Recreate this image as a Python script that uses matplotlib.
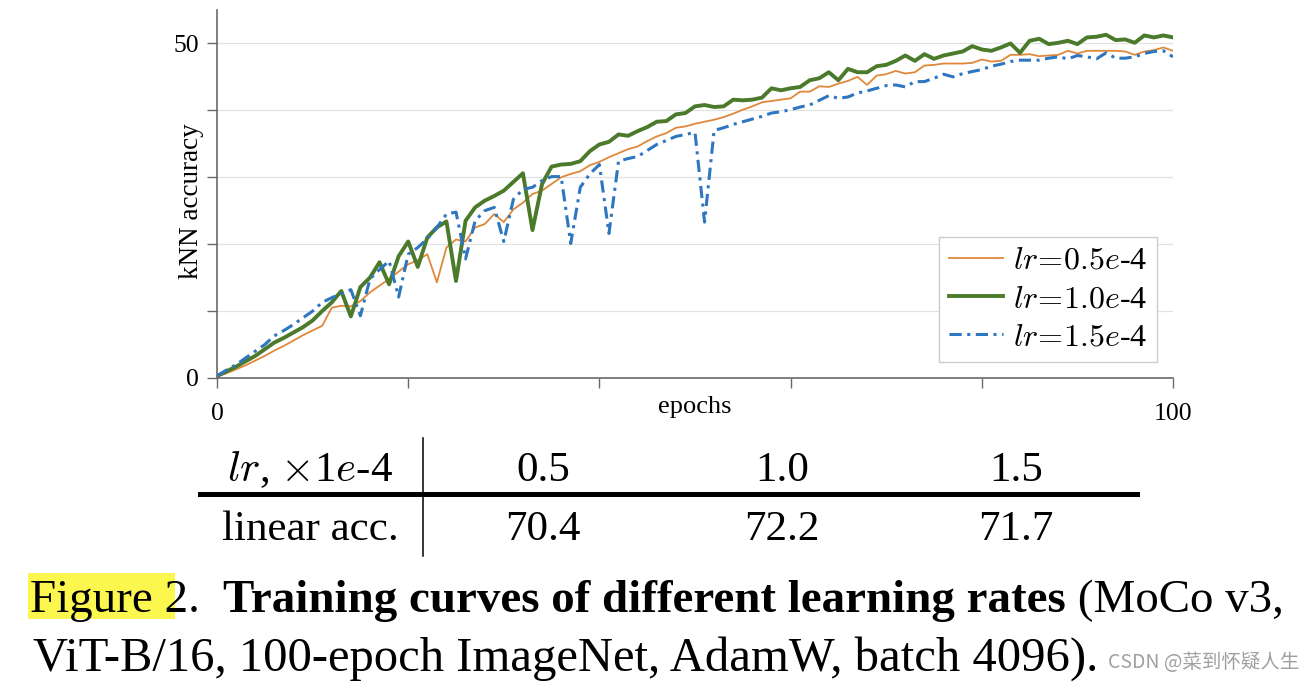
import numpy as np
import matplotlib.pyplot as plt
from matplotlib.patches import Rectangle
from matplotlib.lines import Line2D

plt.rcParams['font.family'] = ['Liberation Serif', 'DejaVu Serif']
plt.rcParams['mathtext.fontset'] = 'cm'

# kNN accuracy per epoch
epochs = np.arange(101)
acc_lr05 = [0.2, 0.7, 1.3, 1.9, 2.6, 3.3, 4.1, 4.8, 5.6, 6.4,
            7.1, 7.8, 10.5, 10.8, 10.7, 11.5, 12.8, 13.8, 14.8, 15.9,
            17.0, 17.6, 18.5, 14.3, 19.5, 20.7, 20.4, 22.5, 23.0, 24.5,
            23.3, 25.2, 26.2, 27.5, 28.0, 29.0, 30.0, 30.5, 30.9, 31.8,
            32.3, 33.0, 33.6, 34.2, 34.6, 35.4, 36.1, 36.6, 37.4, 37.6,
            38.0, 38.3, 38.6, 39.0, 39.5, 40.1, 40.6, 41.2, 41.4, 41.6,
            41.8, 42.8, 42.8, 43.6, 43.5, 44.0, 44.4, 45.0, 43.8, 45.2,
            45.4, 45.9, 45.5, 45.7, 46.7, 46.8, 47.0, 47.0, 47.0, 47.1,
            47.6, 47.3, 47.4, 48.3, 48.3, 48.4, 48.1, 48.2, 48.3, 48.9,
            48.5, 48.9, 48.9, 48.9, 48.9, 48.8, 48.3, 48.8, 49.0, 49.4,
            48.9]
acc_lr10 = [0.3, 1.0, 1.7, 2.5, 3.3, 4.3, 5.3, 6.0, 6.8, 7.6,
            8.6, 10.0, 11.3, 13.0, 9.2, 13.6, 15.0, 17.3, 14.0, 18.2,
            20.4, 16.6, 21.0, 22.5, 23.4, 14.5, 23.5, 25.5, 26.5, 27.2,
            28.0, 29.3, 30.6, 22.1, 29.0, 31.6, 31.9, 32.0, 32.4, 33.9,
            34.9, 35.3, 36.4, 36.2, 36.9, 37.5, 38.3, 38.4, 39.4, 39.6,
            40.6, 40.8, 40.5, 40.6, 41.6, 41.5, 41.6, 41.9, 43.3, 43.0,
            43.3, 43.5, 44.5, 44.8, 45.7, 44.5, 46.2, 45.7, 45.7, 46.6,
            46.8, 47.4, 48.2, 47.4, 48.4, 47.7, 48.2, 48.5, 48.8, 49.6,
            49.1, 48.9, 49.4, 50.0, 48.6, 50.4, 50.7, 49.9, 50.1, 50.4,
            49.9, 50.9, 51.0, 51.3, 50.5, 50.6, 50.1, 51.2, 50.9, 51.2,
            50.9]
acc_lr15 = [0.3, 1.2, 2.0, 3.0, 4.0, 5.0, 6.3, 7.1, 8.0, 9.0,
            10.0, 11.3, 12.0, 12.6, 13.2, 9.3, 14.8, 16.2, 17.5, 12.1,
            18.5, 19.5, 20.8, 22.5, 24.5, 24.8, 17.8, 23.5, 25.0, 25.5,
            20.4, 26.7, 28.2, 28.5, 29.5, 30.1, 30.1, 20.1, 28.5, 30.5,
            31.9, 21.6, 32.4, 32.8, 33.1, 34.0, 34.9, 35.5, 36.1, 36.4,
            36.7, 23.3, 37.0, 37.4, 37.9, 38.3, 38.7, 39.1, 39.6, 39.8,
            40.1, 40.5, 40.8, 41.5, 42.2, 41.8, 42.0, 42.6, 42.9, 43.3,
            43.7, 43.8, 43.5, 44.3, 44.3, 44.8, 45.4, 45.0, 45.5, 45.8,
            46.1, 46.6, 46.9, 47.3, 47.5, 47.5, 47.5, 47.8, 48.0, 47.7,
            48.2, 48.0, 47.7, 48.6, 47.8, 47.8, 48.0, 48.5, 48.8, 48.9,
            48.0]
series_labels = [r'$lr\!=\!0.5e$-4', r'$lr\!=\!1.0e$-4', r'$lr\!=\!1.5e$-4']

# table under the plot
lr_values = ['0.5', '1.0', '1.5']
linear_acc = [70.4, 72.2, 71.7]

fig = plt.figure(figsize=(13.14, 6.82), dpi=100)
W, H = 1314, 682
ax = fig.add_axes([217 / W, 1 - 378 / H, 956 / W, 368 / H])

ax.plot(epochs, acc_lr05, color='#e0883a', lw=1.3, label=series_labels[0])
ax.plot(epochs, acc_lr10, color='#4a7a2a', lw=2.8, label=series_labels[1])
ax.plot(epochs, acc_lr15, color='#2e76c0', lw=2.2, ls=(0, (4, 1.8, 1, 1.8)),
        label=series_labels[2])

ax.set_xlim(0, 100)
ax.set_ylim(0, 55)
ax.set_xticks(np.arange(0, 101, 20))
ax.set_xticklabels(['0', '', '', '', '', '100'])
ax.set_yticks(np.arange(0, 51, 10))
ax.set_yticklabels(['0', '', '', '', '', '50'])
ax.grid(axis='y', color='#e2e2e2', lw=0.9)
ax.set_axisbelow(True)
for s in ['top', 'right']:
    ax.spines[s].set_visible(False)
for s in ['left', 'bottom']:
    ax.spines[s].set_color('#6a6a6a')
    ax.spines[s].set_linewidth(1.2)
ax.tick_params(axis='x', length=7, width=1, color='#6a6a6a', labelsize=18.5, pad=11)
ax.tick_params(axis='y', length=7, width=1, color='#6a6a6a', labelsize=18.5, pad=6)

ax.set_xlabel('epochs', fontsize=19)
ax.xaxis.set_label_coords(0.5, -0.05)
ax.set_ylabel('kNN accuracy', fontsize=19.5)
ax.yaxis.set_label_coords(-0.014, 0.48)

leg = ax.legend(loc='lower right', bbox_to_anchor=(0.983, 0.043), borderaxespad=0,
                fontsize=23, handlelength=1.7, handletextpad=0.3, labelspacing=0.28,
                borderpad=0.3, fancybox=False, framealpha=1)
leg.get_frame().set_edgecolor('#cccccc')
leg.get_frame().set_linewidth(1.0)

# table
def fx(px):
    return px / W

def fy(py):
    return 1 - py / H

col_x = [543, 782, 1016]
tsize = 31
fig.text(fx(310), fy(481), r'$lr$, $\times$1$e$-4', fontsize=tsize, ha='center', va='baseline')
for x, v in zip(col_x, lr_values):
    fig.text(fx(x), fy(481), v, fontsize=tsize, ha='center', va='baseline')
fig.text(fx(310), fy(540), 'linear acc.', fontsize=tsize, ha='center', va='baseline')
for x, v in zip(col_x, linear_acc):
    fig.text(fx(x), fy(540), f'{v:.1f}', fontsize=tsize, ha='center', va='baseline')
fig.add_artist(Line2D([fx(200), fx(1137)], [fy(494), fy(494)], color='black', lw=3.6))
fig.add_artist(Line2D([fx(423), fx(423)], [fy(438), fy(556)], color='black', lw=1.1))

# caption
fig.add_artist(Rectangle((fx(28), fy(619)), (175 - 28) / W, (619 - 573) / H,
                         color='#fbf74f', zorder=0, lw=0))
renderer = fig.canvas.get_renderer()
x = fx(30)
for txt, wt in [('Figure 2.  ', 'normal'),
                ('Training curves of different learning rates', 'bold'),
                (' (MoCo v3,', 'normal')]:
    t = fig.text(x, fy(612), txt, fontsize=33.8, fontweight=wt, ha='left', va='baseline')
    bb = t.get_window_extent(renderer)
    x = bb.x1 / W
fig.text(fx(33), fy(671), 'ViT-B/16, 100-epoch ImageNet, AdamW, batch 4096).',
         fontsize=35, ha='left', va='baseline')
fig.text(fx(1108), fy(663), 'CSDN @菜到怀疑人生', fontsize=14, color='#a0a0a0',
         family=['Noto Sans CJK SC', 'DejaVu Sans'], ha='left', va='center')

fig.savefig('out.png', dpi=100)
